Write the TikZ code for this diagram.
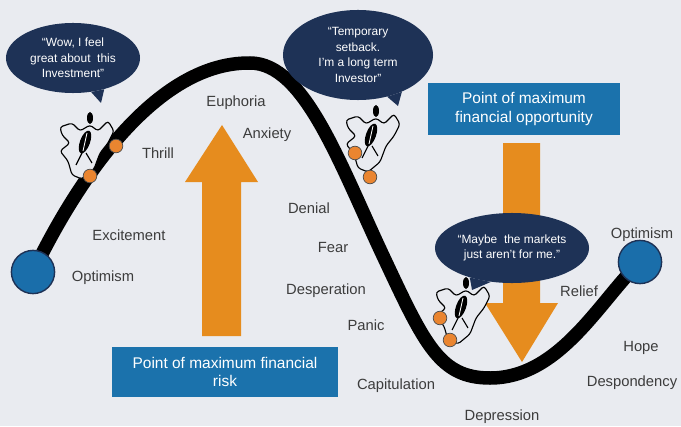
\documentclass[tikz,border=0pt]{standalone}
\usepackage{fontspec}
\setmainfont{Liberation Sans}
\usetikzlibrary{shapes.geometric}
\definecolor{bgcol}{HTML}{E9EBF0}
\definecolor{navy}{HTML}{1E3256}
\definecolor{boxblue}{HTML}{1B72AC}
\definecolor{arrorange}{HTML}{E68C1E}
\definecolor{dotorange}{HTML}{EA8530}
\definecolor{ballblue}{HTML}{1A6EAA}
\definecolor{lblgray}{HTML}{3C3C3C}
\tikzset{
	mood/.style={text=lblgray, font=\fontsize{10.5}{12}\selectfont},
	bubble/.style={ellipse, fill=navy, text=white, align=center, inner sep=0pt, font=\fontsize{8.5}{11}\selectfont},
	infobox/.style={rectangle, fill=boxblue, text=white, align=center, font=\fontsize{11}{13}\selectfont},
	ball/.style={circle, draw=navy, line width=1pt, fill=ballblue, minimum size=1.08cm, inner sep=0pt},
	wheel/.style={circle, draw=black!70, line width=0.5pt, fill=dotorange, minimum size=0.34cm, inner sep=0pt}
}
\newcommand\investor{
	\draw[fill=bgcol, line width=0.8pt, rounded corners=2pt] (-26,-12) -- (-28,-20) -- (-16,-24) -- (-8,-16) -- (2,-22) -- (10,-16) -- (20,-26) -- (26,-16) -- (20,-4) -- (12,6) -- (6,22) -- (-6,32) -- (-16,28) -- (-20,14) -- (-28,4) -- (-18,-4) -- cycle;
	\fill (2,-29) ellipse (3 and 6);
	\fill[rotate around={-20:(-3,-5)}] (-3,-5) ellipse (5 and 12);
	\draw[white, line width=0.6pt] (-1,-14) -- (-5,4);
	\draw[line width=0.8pt] (-6,6) -- (-12,18) (-2,6) -- (4,16);
}

\begin{document}
\begin{tikzpicture}[x=0.025cm, y=-0.025cm]
	\fill[bgcol] (0,0) rectangle (681,426);
	\useasboundingbox (0,0) rectangle (681,426);

	\fill[arrorange] (202,336) -- (202,182) -- (185,182) -- (222,125) -- (258,182) -- (241,182) -- (241,336) -- cycle;
	\fill[arrorange] (503,143) -- (503,303) -- (485,303) -- (522,362) -- (558,303) -- (540,303) -- (540,143) -- cycle;

	\coordinate (startL) at (33,272);
	\coordinate (endR) at (640,262);
	\draw[line width=9.6pt] (startL) .. controls (70,195) and (150,62) .. (250,63)
		.. controls (305,63) and (340,165) .. (385,260)
		.. controls (425,345) and (440,378) .. (490,378)
		.. controls (560,378) and (600,300) .. (endR);

	\node[bubble, minimum width=3.35cm, minimum height=1.75cm] (wow) at (73,58) {``Wow, I feel\\great about\ \ this\\Investment''};
	\coordinate (wowtip) at (101,103);
	\fill[navy] (wow.-62) -- (wowtip) -- (wow.-45) -- cycle;
	\node[bubble, minimum width=3.75cm, minimum height=2.25cm] (setback) at (358,55) {``Temporary\\setback.\\I'm a long term\\Investor''};
	\coordinate (setbacktip) at (398,106);
	\fill[navy] (setback.-55) -- (setbacktip) -- (setback.-40) -- cycle;
	\node[bubble, minimum width=3.6cm, minimum height=1.75cm] (maybe) at (512,248) {``Maybe\ \ the markets\\just aren't for me.''};
	\coordinate (maybetip) at (472,290);
	\fill[navy] (maybe.-145) -- (maybetip) -- (maybe.-122) -- cycle;

	\node[infobox, minimum width=4.8cm, minimum height=1.3cm] (opportunity) at (524,109) {Point of maximum\\financial opportunity};
	\node[infobox, minimum width=5.625cm, minimum height=1.25cm] (risk) at (225,372) {Point of maximum financial\\risk};

	\node[mood] (euphoria) at (236,103) {Euphoria};
	\node[mood] (anxiety) at (267,135) {Anxiety};
	\node[mood] (thrill) at (158,153) {Thrill};
	\node[mood] (excitement) at (129,235) {Excitement};
	\node[mood] (optimismL) at (103,278) {Optimism};
	\node[mood] (denial) at (309,208) {Denial};
	\node[mood] (fear) at (333,247) {Fear};
	\node[mood] (desperation) at (326,291) {Desperation};
	\node[mood] (panic) at (366,325) {Panic};
	\node[mood] (capitulation) at (396,386) {Capitulation};
	\node[mood] (depression) at (502,417) {Depression};
	\node[mood] (despondency) at (632,383) {Despondency};
	\node[mood] (hope) at (641,348) {Hope};
	\node[mood] (relief) at (579,291) {Relief};
	\node[mood] (optimismR) at (642,235) {Optimism};

	\begin{scope}[shift={(88,147)}]
		\investor
	\end{scope}
	\begin{scope}[shift={(374,140)}]
		\investor
	\end{scope}
	\begin{scope}[shift={(464,312)}]
		\investor
	\end{scope}

	\node[wheel] (w1) at (90,176) {};
	\node[wheel] (w2) at (116,146) {};
	\node[wheel] (w3) at (355,153) {};
	\node[wheel] (w4) at (370,177) {};
	\node[wheel] (w5) at (440,318) {};
	\node[wheel] (w6) at (450,340) {};

	\node[ball] (optL) at (startL) {};
	\node[ball] (optR) at (endR) {};
\end{tikzpicture}
\end{document}
